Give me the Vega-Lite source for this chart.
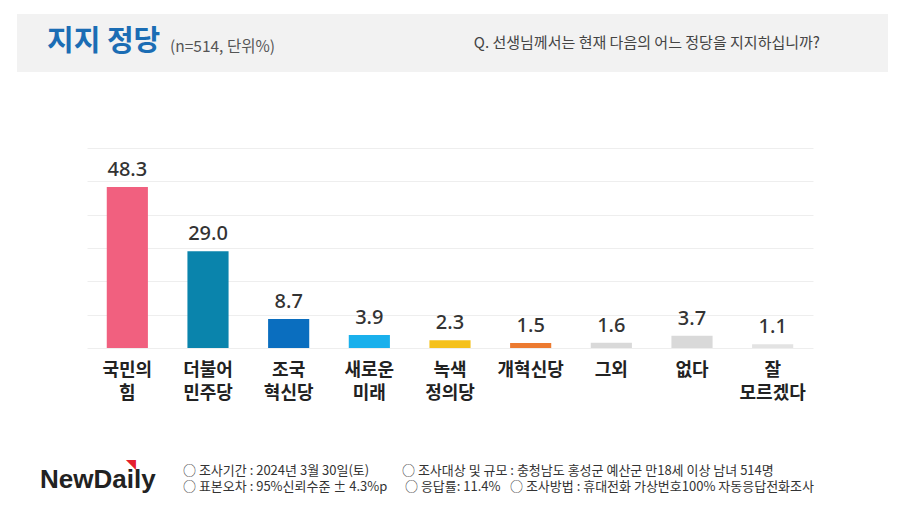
{
  "$schema": "https://vega.github.io/schema/vega-lite/v6.json",
  "background": "#ffffff",
  "padding": {"left": 17, "top": 14, "right": 11, "bottom": 0},
  "spacing": 76,
  "align": "none",
  "bounds": "full",
  "config": {
    "font": "Noto Sans CJK KR",
    "view": {"stroke": null}
  },
  "vconcat": [
    {
      "width": 871,
      "height": 58,
      "view": {"fill": "#f2f2f2", "stroke": null},
      "data": {"values": [{"title": "지지 정당", "note": "(n=514, 단위%)", "question": "Q. 선생님께서는 현재 다음의 어느 정당을 지지하십니까?"}]},
      "layer": [
        {
          "mark": {"type": "text", "align": "left", "baseline": "middle", "fontSize": 29, "fontWeight": "bold", "color": "#1b6db4"},
          "encoding": {"text": {"field": "title"}, "x": {"value": 30}, "y": {"value": 28}}
        },
        {
          "mark": {"type": "text", "align": "left", "baseline": "middle", "fontSize": 15.5, "color": "#555555"},
          "encoding": {"text": {"field": "note"}, "x": {"value": 153}, "y": {"value": 33}}
        },
        {
          "mark": {"type": "text", "align": "right", "baseline": "middle", "fontSize": 15, "color": "#444444"},
          "encoding": {"text": {"field": "question"}, "x": {"value": 803}, "y": {"value": 29}}
        }
      ]
    },
    {
      "spacing": 56,
      "align": "none",
      "bounds": "full",
      "vconcat": [
        {
          "spacing": 0,
          "hconcat": [
            {
              "width": 70,
              "height": 200,
              "data": {"values": []},
              "mark": {"type": "point", "opacity": 0},
              "encoding": {}
            },
            {
              "width": 726,
              "height": 200,
              "data": {"values": [
                {"party": "국민의 힘", "value": 48.3},
                {"party": "더불어 민주당", "value": 29.0},
                {"party": "조국 혁신당", "value": 8.7},
                {"party": "새로운 미래", "value": 3.9},
                {"party": "녹색 정의당", "value": 2.3},
                {"party": "개혁신당", "value": 1.5},
                {"party": "그외", "value": 1.6},
                {"party": "없다", "value": 3.7},
                {"party": "잘 모르겠다", "value": 1.1}
              ]},
              "encoding": {
                "x": {
                  "field": "party", "type": "nominal", "sort": null,
                  "scale": {"paddingInner": 0.49, "paddingOuter": 0.245},
                  "axis": {
                    "title": null, "labelAngle": 0, "domain": false, "ticks": false,
                    "labelExpr": "split(datum.label, ' ')",
                    "labelFontSize": 18, "labelFontWeight": "bold", "labelColor": "#222222",
                    "labelLineHeight": 23, "labelPadding": 13, "labelBaseline": "top"
                  }
                },
                "y": {
                  "field": "value", "type": "quantitative",
                  "scale": {"domain": [0, 60]},
                  "axis": {
                    "title": null, "labels": false, "ticks": false, "domain": false,
                    "values": [0, 10, 20, 30, 40, 50, 60],
                    "grid": true, "gridColor": "#eeeeee", "gridWidth": 1,
                    "minExtent": 0, "maxExtent": 0
                  }
                }
              },
              "layer": [
                {
                  "mark": {"type": "bar"},
                  "encoding": {
                    "color": {
                      "field": "party", "type": "nominal", "legend": null,
                      "scale": {
                        "domain": ["국민의 힘", "더불어 민주당", "조국 혁신당", "새로운 미래", "녹색 정의당", "개혁신당", "그외", "없다", "잘 모르겠다"],
                        "range": ["#f1607f", "#0a84ac", "#0a6ebf", "#1ab0ec", "#f5c11c", "#ec7a30", "#d9d9d9", "#d9d9d9", "#e3e3e3"]
                      }
                    }
                  }
                },
                {
                  "mark": {"type": "text", "baseline": "alphabetic", "dy": -11, "fontSize": 20, "fontWeight": 500, "color": "#333333", "font": "Noto Sans", "letterSpacing": 2},
                  "encoding": {"text": {"field": "value", "type": "quantitative", "format": ".1f"}}
                }
              ]
            }
          ]
        },
        {
          "width": 871,
          "height": 40,
          "data": {"values": [{"logo": "NewDaily", "mark": "◥", "a": "○ 조사기간 : 2024년 3월 30일(토)", "b": "○ 조사대상 및 규모 : 충청남도 홍성군 예산군  만18세 이상 남녀  514명", "c": "○ 표본오차 : 95%신뢰수준 ± 4.3%p", "d": "○ 응답률: 11.4%", "e": "○ 조사방법 : 휴대전화 가상번호100% 자동응답전화조사"}]},
          "layer": [
            {
              "mark": {"type": "text", "align": "left", "baseline": "middle", "fontSize": 26, "fontWeight": "bold", "color": "#222222", "font": "Liberation Sans", "letterSpacing": -0.6},
              "encoding": {"text": {"field": "logo"}, "x": {"value": 23}, "y": {"value": 22}}
            },
            {
              "mark": {"type": "text", "align": "left", "baseline": "middle", "fontSize": 10, "color": "#e5202e"},
              "encoding": {"text": {"field": "mark"}, "x": {"value": 109}, "y": {"value": 8}}
            },
            {
              "mark": {"type": "text", "align": "left", "baseline": "middle", "fontSize": 13, "color": "#333333"},
              "encoding": {"text": {"field": "a"}, "x": {"value": 166}, "y": {"value": 13}}
            },
            {
              "mark": {"type": "text", "align": "left", "baseline": "middle", "fontSize": 13, "color": "#333333"},
              "encoding": {"text": {"field": "b"}, "x": {"value": 385}, "y": {"value": 13}}
            },
            {
              "mark": {"type": "text", "align": "left", "baseline": "middle", "fontSize": 13, "color": "#333333"},
              "encoding": {"text": {"field": "c"}, "x": {"value": 166}, "y": {"value": 29}}
            },
            {
              "mark": {"type": "text", "align": "left", "baseline": "middle", "fontSize": 13, "color": "#333333"},
              "encoding": {"text": {"field": "d"}, "x": {"value": 388}, "y": {"value": 29}}
            },
            {
              "mark": {"type": "text", "align": "left", "baseline": "middle", "fontSize": 13, "color": "#333333"},
              "encoding": {"text": {"field": "e"}, "x": {"value": 493}, "y": {"value": 29}}
            }
          ]
        }
      ]
    }
  ]
}
